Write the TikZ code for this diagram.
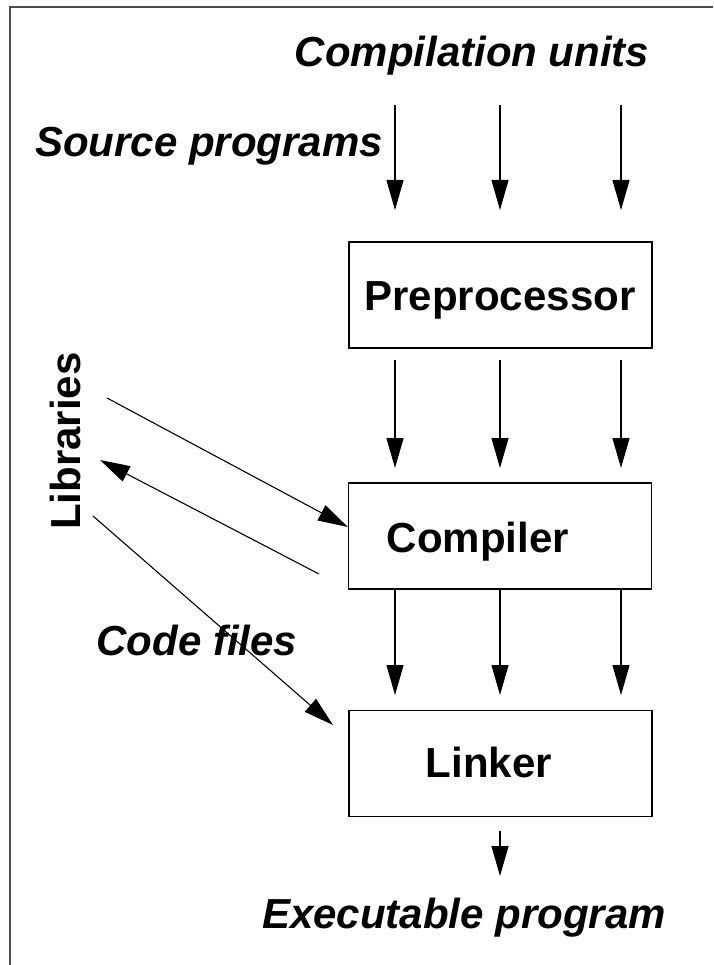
\documentclass[tikz,border=0pt]{standalone}
\usepackage{fontspec}
\setmainfont{Liberation Sans}
\usetikzlibrary{arrows.meta,calc}
\begin{document}
\begin{tikzpicture}[x=1pt,y=-1pt,
  box/.style={draw,line width=1.2pt,minimum width=303pt,minimum height=106pt,inner sep=0pt},
  arr/.style={-{Triangle[length=30pt,width=17pt]},line width=1.1pt},
  lbl/.style={font=\fontsize{42}{48}\selectfont\bfseries\itshape,anchor=base,inner sep=0pt},
  boxtxt/.style={font=\fontsize{42}{48}\selectfont\bfseries,anchor=base,inner sep=0pt}]
\useasboundingbox (0,0) rectangle (713,965);
\draw[line width=2pt,black!70] (10,965) -- (10,7) -- (713,7);

% boxes
\node[box] (pre) at (500.5,295) {};
\node[box] (comp) at (500,536) {};
\node[box] (link) at (500.5,763.5) {};
\node[boxtxt] (pretxt) at (500,310) {Preprocessor};
\node[boxtxt] (comptxt) at (478,552) {Compiler};
\node[boxtxt] (linktxt) at (489,777) {Linker};

% labels
\node[lbl] (cu) at (472,67) {Compilation units};
\node[lbl] (sp) at (209,157) {Source programs};
\node[lbl] (cf) at (197,655) {Code files};
\node[lbl] (ep) at (464,928) {Executable program};
\node[boxtxt,rotate=90] (lib) at (80,441) {Libraries};

% input arrows
\foreach \i/\x in {1/395,2/500,3/621}{
  \coordinate (a\i) at (\x,105);
  \coordinate (b\i) at (\x,210);
  \draw[arr] (a\i) -- (b\i);
  \coordinate (c\i) at (\x,360);
  \coordinate (d\i) at (\x,468);
  \draw[arr] (c\i) -- (d\i);
  \coordinate (e\i) at (\x,589);
  \coordinate (f\i) at (\x,695);
  \draw[arr] (e\i) -- (f\i);
}
\coordinate (o1) at (500,831);
\coordinate (o2) at (500,876);
\draw[arr] (o1) -- (o2);

% library arrows
\coordinate (l1) at (107,398);
\draw[arr] (l1) -- ([yshift=9pt]comp.west);
\coordinate (c2s) at (319,574);
\coordinate (l2) at (100,460);
\draw[arr] (c2s) -- (l2);
\coordinate (l3) at (93,516);
\coordinate (k3) at (333,725);
\draw[arr] (l3) -- (k3);
\end{tikzpicture}
\end{document}
